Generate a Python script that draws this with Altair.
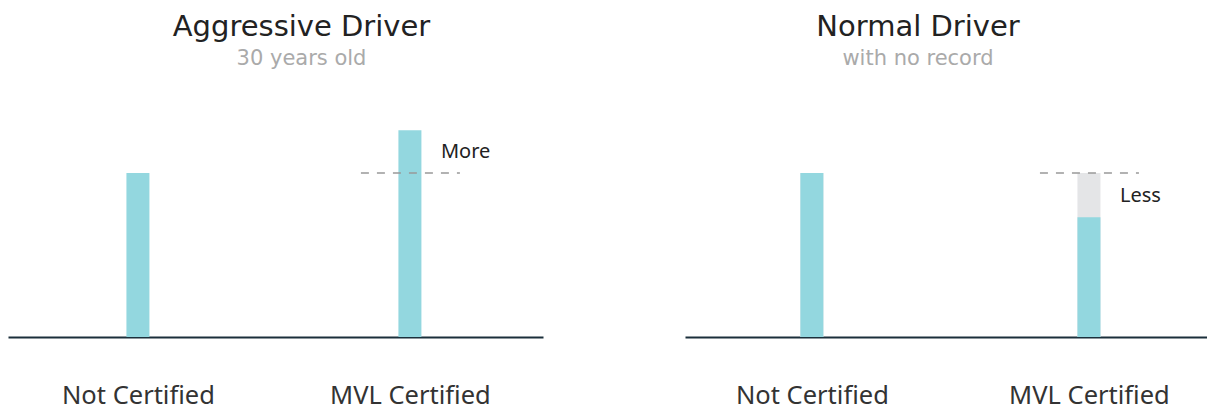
import altair as alt
import pandas as pd

categories = ["Not Certified", "MVL Certified"]
aggressive_values = [100, 126]
normal_values = [100, 73]
normal_reference = [100, 100]
ref_value = 100
annot_left = {"label": "More", "cat": "MVL Certified", "y": 113}
annot_right = {"label": "Less", "cat": "MVL Certified", "y": 86}

TEAL = "#93d7df"
GREY = "#e4e5e7"
FONT = "Noto Sans"
TITLE_FONT = "DejaVu Sans"


def panel(values, ref_bars, title, subtitle, annot, width, pad, align, dx):
    df = pd.DataFrame({"cat": categories, "v": values, "ref": ref_bars})
    xs = alt.X("cat:N", sort=categories, title=None,
               scale=alt.Scale(type="point", padding=pad, align=align),
               axis=alt.Axis(labelAngle=0, ticks=False, grid=False,
                             domainColor="#1b2f3b", domainWidth=2,
                             labelFontSize=25.5, labelColor="#333333",
                             labelFont=FONT, labelPadding=46))
    ys = alt.Y("v:Q", scale=alt.Scale(domain=[0, 150]), axis=None)
    base = alt.Chart(df)
    layers = []
    if ref_bars is not None:
        layers.append(base.mark_bar(size=23, color=GREY).encode(
            x=xs, y=alt.Y("ref:Q", scale=alt.Scale(domain=[0, 150]), axis=None)))
    layers.append(base.mark_bar(size=23, color=TEAL).encode(x=xs, y=ys))
    rule_df = pd.DataFrame({"cat": [annot["cat"]], "v": [ref_value]})
    layers.append(alt.Chart(rule_df).mark_rule(
        color="#999999", strokeWidth=1.6, strokeDash=[8, 8],
        xOffset=-49, x2Offset=50).encode(x=xs, x2=alt.X2("cat:N"), y=ys))
    ann_df = pd.DataFrame({"cat": [annot["cat"]], "v": [annot["y"]],
                           "label": [annot["label"]]})
    layers.append(alt.Chart(ann_df).mark_text(
        align="left", baseline="middle", dx=31, fontSize=20,
        font=FONT, color="#222222").encode(x=xs, y=ys, text="label:N"))
    return alt.layer(*layers).properties(
        width=width, height=246,
        title=alt.TitleParams(text=title, subtitle=subtitle, fontSize=29,
                              font=TITLE_FONT, fontWeight="normal",
                              color="#222222",
                              subtitleFont=TITLE_FONT, subtitleFontSize=21,
                              subtitleColor="#aaaaaa", subtitlePadding=6.4,
                              anchor="middle", dx=dx, offset=21.6))


left = panel(aggressive_values, None, "Aggressive Driver", "30 years old",
             annot_left, 535, 0.4835, 0.494, 26)
right = panel(normal_values, normal_reference, "Normal Driver", "with no record",
              annot_right, 522, 0.442, 0.518, -28)

chart = alt.hconcat(left, right, spacing=142).properties(
    padding={"top": 5, "bottom": 2, "left": 0, "right": 0}).configure_view(
    stroke=None)

chart.save("out.html", embed_options={"renderer": "svg", "actions": False})
